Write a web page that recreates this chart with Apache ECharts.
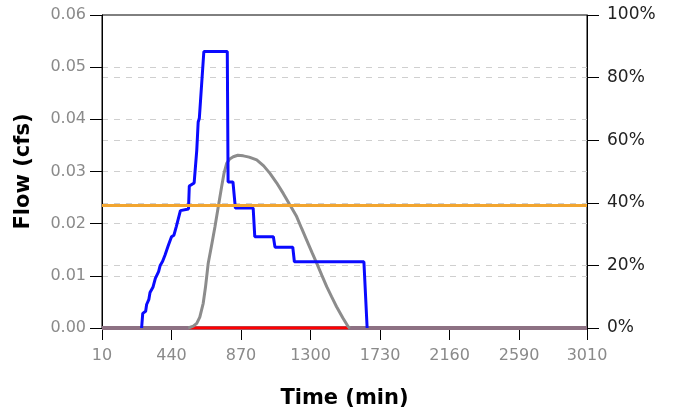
<!DOCTYPE html>
<html>
<head>
<meta charset="utf-8">
<title>Flow</title>
<script src="https://cdn.jsdelivr.net/npm/echarts@6/dist/echarts.min.js"></script>
<style>
  html, body { margin: 0; padding: 0; background: #fff; }
  #chart { width: 676px; height: 412px; }
</style>
</head>
<body>
<div id="chart"></div>
<script>
// x axis ticks (min)
var timeMin = 10, timeMax = 3010, timeStep = 430;

// blue flow line (cfs)
var blueTime = [255, 262, 280, 286, 300, 307, 325, 340, 360, 370, 385, 400, 420, 440, 455, 470, 495, 545, 550, 560, 580, 596, 605, 612, 640, 785, 790, 820, 835, 945, 955, 1070, 1080, 1190, 1200, 1630, 1650];
var blueFlow = [0, 0.0028, 0.0032, 0.0045, 0.0055, 0.0068, 0.0078, 0.0095, 0.0108, 0.012, 0.0128, 0.014, 0.0158, 0.0175, 0.0178, 0.0195, 0.0225, 0.0228, 0.0272, 0.0275, 0.0278, 0.034, 0.0395, 0.0402, 0.053, 0.053, 0.028, 0.028, 0.023, 0.023, 0.0175, 0.0175, 0.0155, 0.0155, 0.0127, 0.0127, 0];

// gray curve (% on right axis)
var grayTime = [544, 575, 596, 615, 636, 650, 667, 690, 709, 730, 750, 765, 781, 800, 822, 850, 884, 920, 967, 1010, 1049, 1090, 1131, 1170, 1214, 1245, 1276, 1310, 1338, 1370, 1400, 1430, 1461, 1500, 1533, 1544];
var grayPct = [0, 0.6, 1.5, 3.5, 7.9, 13, 20.7, 27, 32.4, 39, 45.1, 49.5, 52.6, 54, 54.7, 55.2, 55, 54.6, 53.7, 51.8, 49.4, 46.4, 43, 39.5, 35.6, 31.8, 28.1, 24, 20.7, 16.8, 13.2, 10, 6.8, 3.2, 0.4, 0];

// orange threshold line and red / base lines along zero
var orangeTime = [10, 3010];
var orangeFlow = [0.0235, 0.0235];
var redTime = [550, 1533];
var redFlow = [0, 0];
var baseTime = [10, 3010];
var baseFlow = [0, 0];

function pairs(xs, ys) {
  var out = [];
  for (var i = 0; i < xs.length; i++) out.push([xs[i], ys[i]]);
  return out;
}

var font = 'DejaVu Sans';

var option = {
  animation: false,
  backgroundColor: '#fff',
  grid: {
    left: 102, right: 89, top: 15, bottom: 84,
    outerBoundsMode: 'none',
    show: true, borderColor: '#000', borderWidth: 1, backgroundColor: 'transparent'
  },
  xAxis: {
    type: 'value',
    min: timeMin, max: timeMax, interval: timeStep,
    name: 'Time (min)',
    nameLocation: 'middle',
    nameGap: 60,
    nameTextStyle: { fontFamily: font, fontSize: 21, fontWeight: 'bold', color: '#000' },
    axisLine: { lineStyle: { color: '#000', width: 1 } },
    axisTick: { length: 12, lineStyle: { color: '#000' } },
    axisLabel: {
      margin: 20, fontFamily: font, fontSize: 16, color: '#8a8a8a',
      formatter: function (v) { return String(v); }
    },
    splitLine: { show: false }
  },
  yAxis: [
    {
      type: 'value',
      min: 0, max: 0.06, interval: 0.01,
      name: 'Flow (cfs)',
      nameLocation: 'middle',
      nameGap: 68,
      nameTextStyle: { fontFamily: font, fontSize: 21, fontWeight: 'bold', color: '#000' },
      axisLine: { show: true, lineStyle: { color: '#000', width: 1 } },
      axisTick: { show: true, length: 12, lineStyle: { color: '#000' } },
      axisLabel: {
        margin: 16, fontFamily: font, fontSize: 16, color: '#8a8a8a',
        formatter: function (v) { return v.toFixed(2); }
      },
      splitLine: {
        show: true, showMinLine: false, showMaxLine: false,
        lineStyle: { color: '#cfcfcf', type: [6, 6], width: 1 }
      }
    },
    {
      type: 'value',
      min: 0, max: 100, interval: 20,
      position: 'right',
      axisLine: { show: true, lineStyle: { color: '#000', width: 1 } },
      axisTick: { show: true, length: 12, lineStyle: { color: '#000' } },
      axisLabel: { margin: 20, fontFamily: font, fontSize: 17, color: '#222', formatter: '{value}%' },
      splitLine: {
        show: true, showMinLine: false, showMaxLine: false,
        lineStyle: { color: '#cfcfcf', type: [6, 6], width: 1 }
      }
    }
  ],
  series: [
    {
      name: 'base', type: 'line', data: pairs(baseTime, baseFlow),
      showSymbol: false, lineStyle: { color: '#8d7183', width: 4 }, z: 1
    },
    {
      name: 'red', type: 'line', data: pairs(redTime, redFlow),
      showSymbol: false, lineStyle: { color: '#ff0000', width: 3 }, z: 2
    },
    {
      name: 'gray', type: 'line', yAxisIndex: 1, data: pairs(grayTime, grayPct),
      showSymbol: false, lineStyle: { color: '#8c8c8c', width: 3 }, z: 3
    },
    {
      name: 'flow', type: 'line', data: pairs(blueTime, blueFlow),
      showSymbol: false, lineStyle: { color: '#0a0aff', width: 3 }, z: 4
    },
    {
      name: 'orange', type: 'line', data: pairs(orangeTime, orangeFlow),
      showSymbol: false, lineStyle: { color: '#f2a530', width: 3 }, z: 5
    }
  ]
};

var chart = echarts.init(document.getElementById('chart'));
chart.setOption(option);
</script>
</body>
</html>
